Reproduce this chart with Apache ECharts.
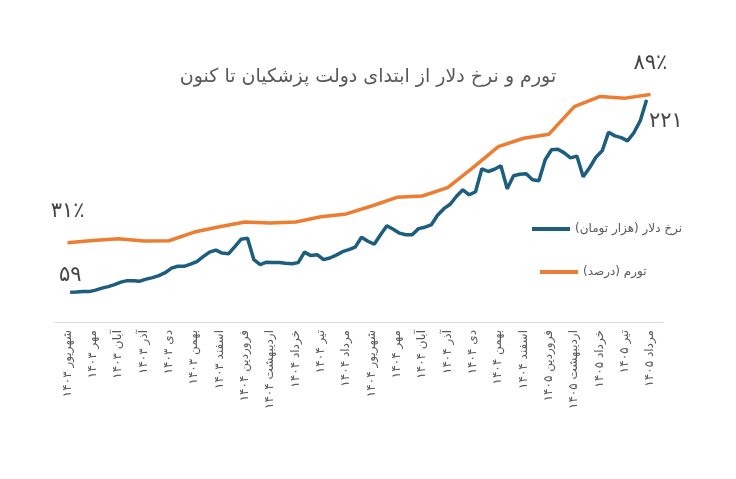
<!DOCTYPE html>
<html>
<head>
    <meta charset="UTF-8">
    <title>تورم و نرخ دلار</title>
    <style>
        html, body {
            height: 100%;
            width: 100%;
            margin: 0;
            padding: 0;
            background: #ffffff;
        }
    </style>
    <script src="https://cdn.jsdelivr.net/npm/echarts@6/dist/echarts.min.js"></script>
</head>
<body>
<div id="main" style="width: 736px; height: 479px;"></div>

<script type="text/javascript">
    // ماه‌ها (محور افقی)
    var months = ['شهریور ۱۴۰۳', 'مهر ۱۴۰۳', 'آبان ۱۴۰۳', 'آذر ۱۴۰۳', 'دی ۱۴۰۳', 'بهمن ۱۴۰۳',
        'اسفند ۱۴۰۳', 'فروردین ۱۴۰۴', 'اردیبهشت ۱۴۰۴', 'خرداد ۱۴۰۴', 'تیر ۱۴۰۴', 'مرداد ۱۴۰۴',
        'شهریور ۱۴۰۴', 'مهر ۱۴۰۴', 'آبان ۱۴۰۴', 'آذر ۱۴۰۴', 'دی ۱۴۰۴', 'بهمن ۱۴۰۴',
        'اسفند ۱۴۰۴', 'فروردین ۱۴۰۵', 'اردیبهشت ۱۴۰۵', 'خرداد ۱۴۰۵', 'تیر ۱۴۰۵', 'مرداد ۱۴۰۵'];
    // تورم ماهانه (درصد)
    var inflation = [31, 31.9, 32.6, 31.7, 31.8, 35.2, 37.3, 39.1, 38.7, 39.1, 41.2, 42.3,
        45.4, 48.8, 49.3, 52.6, 60.4, 68.6, 71.9, 73.5, 84.3, 88.2, 87.6, 89];
    // نرخ دلار (هزار تومان)، هر یک چهارم ماه از ابتدای شهریور ۱۴۰۳
    var dollarStart = 0.1;
    var dollarStep = 0.25;
    var dollar = [59.0, 59.2, 59.6, 59.6, 60.8, 62.5, 63.8, 65.5, 67.6, 68.8,
        68.8, 68.4, 70.1, 71.4, 73.0, 75.5, 79.3, 80.9, 80.9, 82.7,
        84.8, 89.0, 92.8, 94.5, 92.0, 91.5, 97.4, 103.7, 104.6, 86.5,
        82.3, 84.4, 84.0, 84.0, 83.5, 83.1, 84.0, 92.8, 89.9, 90.7,
        86.5, 87.9, 90.3, 93.2, 94.9, 97.0, 105.4, 102.0, 99.5, 107.5,
        115.1, 112.1, 108.8, 107.5, 107.5, 112.6, 113.8, 115.7, 123.9, 129.4,
        133.1, 139.9, 145.3, 141.1, 143.7, 163.0, 160.7, 162.6, 165.5, 146.2,
        157.1, 158.4, 158.8, 153.7, 152.9, 170.6, 179.0, 179.4, 176.4, 172.2,
        173.7, 156.3, 163.8, 172.7, 178.1, 193.7, 190.7, 189.2, 186.5, 193.3,
        203.3, 221.0];
    var legendNames = ['نرخ دلار (هزار تومان)\u200F', 'تورم (درصد)\u200F'];

    var blue = '#1d5d7e';
    var orange = '#ed7d31';
    var font = 'DejaVu Sans';

    // ارقام فارسی
    function fa(n) {
        return String(n).replace(/[0-9]/g, function (d) {
            return '۰۱۲۳۴۵۶۷۸۹'.charAt(+d);
        });
    }

    var endLabel = {
        show: true,
        fontFamily: font,
        fontSize: 21,
        color: '#454545'
    };

    var inflationData = inflation.map(function (v, i) {
        if (i === 0 || i === inflation.length - 1) {
            return {
                value: v,
                label: Object.assign({position: 'top', distance: 20,
                    formatter: fa(Math.round(v)) + '٪'}, endLabel)
            };
        }
        return v;
    });

    var dollarData = dollar.map(function (v, i) {
        var item = {value: [dollarStart + i * dollarStep, v]};
        if (i === 0) {
            item.label = Object.assign({position: 'top', distance: 6,
                formatter: fa(Math.round(v))}, endLabel);
        } else if (i === dollar.length - 1) {
            item.label = Object.assign({position: 'right', distance: 2, offset: [0, 22],
                formatter: fa(Math.round(v))}, endLabel);
        }
        return item;
    });

    var legendText = {fontFamily: font, fontSize: 12, color: '#595959'};

    var myChart = echarts.init(document.getElementById('main'));
    var option = {
        animation: false,
        title: {
            text: 'تورم و نرخ دلار از ابتدای دولت پزشکیان تا کنون',
            left: 'center',
            top: 63,
            textStyle: {
                fontFamily: font,
                fontSize: 19,
                fontWeight: 'normal',
                color: '#595959'
            }
        },
        legend: [{
            data: [{name: legendNames[0], icon: 'rect'}],
            left: 527,
            top: 218,
            itemWidth: 38,
            itemHeight: 4,
            itemGap: 4,
            textStyle: legendText
        }, {
            data: [{name: legendNames[1], icon: 'rect'}],
            left: 535,
            top: 261,
            itemWidth: 38,
            itemHeight: 4,
            textStyle: legendText
        }],
        grid: {
            left: 55,
            right: 73,
            top: 69,
            bottom: 157
        },
        xAxis: [{
            type: 'category',
            data: months,
            boundaryGap: true,
            axisLine: {lineStyle: {color: '#d9d9d9', width: 1}},
            axisTick: {show: false},
            splitLine: {show: false},
            axisLabel: {
                interval: 0,
                rotate: 90,
                margin: 8,
                fontFamily: font,
                fontSize: 12,
                color: '#595959'
            }
        }, {
            type: 'value',
            min: -0.5,
            max: 23.5,
            show: false
        }],
        yAxis: [{
            type: 'value',
            min: 0,
            max: 99,
            show: false,
            splitLine: {show: false}
        }, {
            type: 'value',
            min: 34,
            max: 247,
            show: false,
            splitLine: {show: false}
        }],
        series: [{
            name: legendNames[0],
            type: 'line',
            xAxisIndex: 1,
            yAxisIndex: 1,
            data: dollarData,
            symbol: 'circle',
            symbolSize: 1,
            showAllSymbol: true,
            z: 3,
            lineStyle: {color: blue, width: 3.5},
            itemStyle: {color: blue}
        }, {
            name: legendNames[1],
            type: 'line',
            xAxisIndex: 0,
            yAxisIndex: 0,
            data: inflationData,
            symbol: 'circle',
            symbolSize: 1,
            showAllSymbol: true,
            z: 2,
            lineStyle: {color: orange, width: 3.5},
            itemStyle: {color: orange}
        }]
    };
    myChart.setOption(option);
</script>
</body>
</html>
